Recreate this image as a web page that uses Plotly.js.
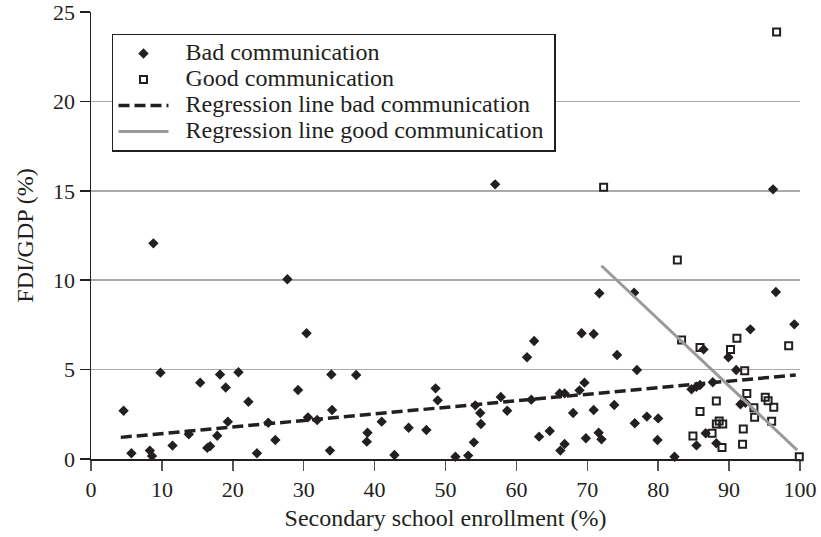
<!DOCTYPE html>
<html>
<head>
<meta charset="utf-8">
<script src="https://cdn.plot.ly/plotly-3.0.1.min.js"></script>
<style>html,body{margin:0;padding:0;background:#fff;}#chart{width:821px;height:537px;}</style>
</head>
<body>
<div id="chart"></div>
<script>
// Bad communication (secondary school enrollment %, FDI/GDP %)
const badX = [4.6,5.7,8.3,8.6,8.8,9.8,11.5,13.8,15.4,16.4,16.8,17.8,18.2,19.0,19.3,20.8,22.2,23.4,25.0,26.0,27.7,29.2,30.4,30.6,31.9,33.7,33.9,34.0,37.4,38.9,39.0,41.0,42.8,44.8,47.3,48.6,48.9,51.4,53.2,54.0,54.2,54.9,55.0,57.0,57.8,58.7,61.5,62.1,62.5,63.2,64.7,66.1,66.2,66.8,66.8,68.0,68.9,69.2,69.6,69.8,70.9,70.9,71.6,71.7,72.0,73.8,74.2,76.6,76.7,77.0,78.4,79.9,80.0,82.3,84.7,85.4,85.4,85.9,86.4,86.7,87.7,88.2,89.9,91.0,91.6,92.3,93.0,96.2,96.6,99.2];
const badY = [2.7,0.32,0.47,0.17,12.06,4.83,0.75,1.38,4.27,0.62,0.72,1.3,4.73,4.0,2.09,4.85,3.2,0.32,2.03,1.06,10.05,3.86,7.03,2.33,2.18,0.47,4.73,2.74,4.7,0.97,1.47,2.09,0.22,1.75,1.62,3.95,3.28,0.13,0.19,0.93,3.0,2.57,1.96,15.36,3.47,2.7,5.69,3.32,6.6,1.25,1.57,3.67,0.47,3.67,0.84,2.57,3.84,7.03,4.27,1.16,6.99,2.74,1.47,9.27,1.1,3.02,5.82,9.3,2.0,4.98,2.37,1.06,2.27,0.13,3.9,4.04,0.76,4.14,6.13,1.44,4.29,0.88,5.69,4.98,3.06,3.15,7.25,15.08,9.34,7.53];

// Good communication
const goodX = [72.3,82.7,83.3,84.9,85.9,85.9,87.6,88.2,88.2,88.6,89.1,89.0,90.2,91.1,91.9,92.0,92.2,92.5,93.5,93.6,95.1,95.5,96.0,96.3,96.7,98.4,99.9];
const goodY = [15.2,11.13,6.66,1.29,6.24,2.65,1.44,3.24,1.96,2.12,1.96,0.65,6.13,6.75,0.82,1.68,4.94,3.67,2.87,2.33,3.45,3.26,2.11,2.89,23.88,6.34,0.13];

// Regression line end points
const regBadX = [4.2, 99.4];
const regBadY = [1.21, 4.7];
const regGoodX = [72.0, 99.6];
const regGoodY = [10.81, 0.5];

const xTicks = [0,10,20,30,40,50,60,70,80,90,100];
const yTicks = [0,5,10,15,20,25];

const seriesNames = ['Bad communication', 'Good communication',
  'Regression line bad communication', 'Regression line good communication'];

const FONT = "'Liberation Serif', 'Times New Roman', serif";
const INK = '#231f20';
const legendName = s => '<span style="font-size:24px">\u00A0\u00A0' + s + '\u00A0</span>';

const traces = [
  {x: badX, y: badY, mode: 'markers', type: 'scatter', name: legendName(seriesNames[0]),
   cliponaxis: false,
   marker: {symbol: 'diamond', size: 8, color: INK}},
  {x: goodX, y: goodY, mode: 'markers', type: 'scatter', name: legendName(seriesNames[1]),
   cliponaxis: false,
   marker: {symbol: 'square-open', size: 7, color: INK, line: {width: 2, color: INK}}},
  {x: regBadX, y: regBadY, mode: 'lines', type: 'scatter', name: legendName(seriesNames[2]),
   line: {color: INK, width: 3.5, dash: '11px,5px'}},
  {x: regGoodX, y: regGoodY, mode: 'lines', type: 'scatter', name: legendName(seriesNames[3]),
   line: {color: '#9a9a9a', width: 3}}
];

const layout = {
  width: 821, height: 537,
  margin: {l: 91, r: 21, t: 12, b: 78},
  paper_bgcolor: '#fff', plot_bgcolor: '#fff',
  font: {family: FONT, color: INK, size: 22},
  showlegend: true,
  legend: {x: 0.0296, y: 0.9508, xanchor: 'left', yanchor: 'top',
           bordercolor: INK, borderwidth: 1.5, bgcolor: '#fff',
           itemwidth: 50,
           font: {family: FONT, size: 17.7, color: INK}},
  xaxis: {range: [0, 100], tickvals: xTicks, ticktext: xTicks.map(String),
          ticks: 'outside', ticklen: 10, tickwidth: 1.5, tickcolor: '#555',
          showline: true, linecolor: INK, linewidth: 1.5,
          showgrid: false, zeroline: false, fixedrange: true,
          ticklabeloverflow: 'allow',
          tickfont: {family: FONT, size: 22, color: INK},
          title: {text: 'Secondary school enrollment (%)', font: {family: FONT, size: 24, color: INK}, standoff: 8}},
  yaxis: {range: [0, 25], tickvals: yTicks, ticktext: yTicks.map(String),
          ticks: 'outside', ticklen: 10, tickwidth: 1.5, tickcolor: INK,
          showline: true, linecolor: INK, linewidth: 1.5,
          showgrid: true, gridcolor: '#aaaaaa', gridwidth: 1.5,
          zeroline: false, fixedrange: true,
          ticklabeloverflow: 'allow',
          tickfont: {family: FONT, size: 22, color: INK},
          title: {text: 'FDI/GDP (%)', font: {family: FONT, size: 24, color: INK}, standoff: 12}}
};

Plotly.newPlot('chart', traces, layout, {displayModeBar: false, staticPlot: true});
</script>
</body>
</html>
